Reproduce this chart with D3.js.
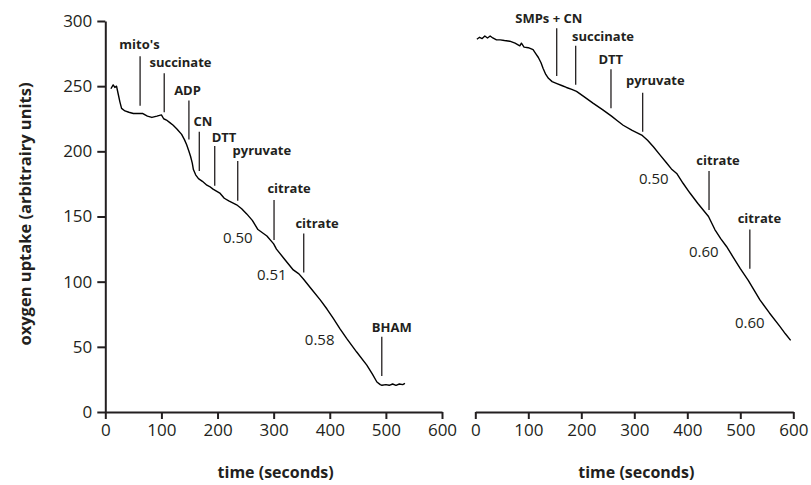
<!DOCTYPE html>
<html>
<head>
<meta charset="utf-8">
<script src="https://cdn.jsdelivr.net/npm/d3@7"></script>
<style>
  html, body { margin: 0; padding: 0; background: #fff; }
  svg { display: block; font-family: "Open Sans", sans-serif; }
</style>
</head>
<body>
<svg id="chart" width="811" height="485"></svg>
<script>
// Oxygen electrode traces: intact mitochondria (left) and SMPs (right)
const leftTime = [10, 14, 17, 20, 23, 26, 29, 35, 42, 50, 58, 67, 75, 83, 92, 100, 104, 109, 115, 121, 128, 136, 141, 145, 149, 152, 155, 157, 161, 166, 173, 181, 186, 192, 204, 212, 220, 234, 243, 252, 262, 272, 288, 300, 305, 318, 335, 345, 353, 368, 383, 395, 406, 418, 430, 448, 466, 476, 484, 490, 493, 500, 506, 512, 518, 524, 530, 534];
const leftO2 = [248, 251, 249, 250, 244, 238, 233, 231, 230, 229, 229, 229, 227, 226, 227, 228, 225, 224, 222, 220, 217, 213, 209, 205, 200, 196, 191, 186, 182, 179, 177, 174, 173, 171, 168, 164, 162, 159, 156, 152, 147, 140, 135, 129, 125, 118, 109, 106, 102, 94, 86, 79, 72, 64, 56.5, 46, 36, 29, 23, 21, 20.5, 21, 20.5, 21.5, 20.5, 21.5, 21, 22];

const rightTime = [3, 8, 13, 18, 23, 28, 33, 40, 47, 55, 65, 75, 84, 87, 92, 100, 109, 114, 119, 124, 128, 133, 138, 145, 154, 163, 172, 182, 191, 205, 222, 240, 257, 268, 279, 296, 314, 325, 336, 348, 361, 370, 380, 392, 405, 420, 440, 452, 463, 474, 487, 500, 515, 526, 537, 555, 575, 585, 595];
const rightO2 = [286, 287.5, 286.5, 288.5, 287, 288.5, 287, 285.5, 285.5, 285, 284.5, 283, 281, 283, 280, 279.5, 278, 275, 272, 268, 263.5, 259, 256, 253.5, 252, 250.5, 249, 247.5, 246, 242, 237, 232, 227, 223.5, 220, 216, 212.5, 208.5, 203.5, 197.5, 191, 186.5, 183, 175.5, 168, 160, 150, 140, 133, 127, 118.5, 110, 101, 93.5, 86, 76, 65.5, 60, 55];

// Addition markers: label, time of addition, line bottom/top, label centre and baseline
const leftMarkers = [
  { label: "mito's",    t: 62,    y0: 235,  y1: 273,   lt: 61,    ly: 278.5 },
  { label: "succinate", t: 105,   y0: 230,  y1: 260,   lt: 134,   ly: 265 },
  { label: "ADP",       t: 149,   y0: 209,  y1: 239,   lt: 146.5, ly: 243 },
  { label: "CN",        t: 167.5, y0: 185,  y1: 215,   lt: 174,   ly: 219.5 },
  { label: "DTT",       t: 195,   y0: 173.6, y1: 204,  lt: 211.6, ly: 207.4 },
  { label: "pyruvate",  t: 236,   y0: 162,  y1: 192.6, lt: 279,   ly: 197 },
  { label: "citrate",   t: 300.7, y0: 132,  y1: 162.7, lt: 327.5, ly: 167.8 },
  { label: "citrate",   t: 353.6, y0: 107,  y1: 137,   lt: 377.4, ly: 141 },
  { label: "BHAM",      t: 492.7, y0: 27.6, y1: 57.8,  lt: 510.5, ly: 61.6 }
];
const rightMarkers = [
  { label: "SMPs + CN", t: 153.6, y0: 257.8, y1: 294.4, lt: 138.7, ly: 298.7 },
  { label: "succinate", t: 189.4, y0: 251,   y1: 281,   lt: 241,   ly: 285 },
  { label: "DTT",       t: 256,   y0: 233,   y1: 263,   lt: 255.7, ly: 267 },
  { label: "pyruvate",  t: 315.8, y0: 215,   y1: 245,   lt: 339.6, ly: 251 },
  { label: "citrate",   t: 441,   y0: 155,   y1: 185,   lt: 458,   ly: 189.5 },
  { label: "citrate",   t: 518,   y0: 110,   y1: 140,   lt: 536,   ly: 145.2 }
];

// Uptake rates written beside the trace
const leftRates = [
  { label: "0.50", t: 236, y: 130 },
  { label: "0.51", t: 296.6, y: 101.3 },
  { label: "0.58", t: 382, y: 51.4 }
];
const rightRates = [
  { label: "0.50", t: 336.8, y: 175 },
  { label: "0.60", t: 431, y: 119.2 },
  { label: "0.60", t: 518, y: 64.2 }
];

const xTicks = [0, 100, 200, 300, 400, 500, 600];
const yTicks = [0, 50, 100, 150, 200, 250, 300];

const ink = "#231f20";
const svg = d3.select("#chart");

const y = d3.scaleLinear().domain([0, 300]).range([412, 21]);

function panel(range, time, o2, markers, rates, showY) {
  const x = d3.scaleLinear().domain([0, 600]).range(range);
  const g = svg.append("g");

  const xAxis = g.append("g")
    .attr("transform", `translate(0,${y(0)})`)
    .call(d3.axisBottom(x).tickValues(xTicks).tickSize(7).tickPadding(5).tickSizeOuter(0));
  xAxis.select(".domain").attr("stroke", ink).attr("stroke-width", 2);
  xAxis.selectAll(".tick line").attr("stroke", ink).attr("stroke-width", 2);
  xAxis.selectAll(".tick text").attr("fill", ink).attr("font-size", 17)
    .attr("font-family", "Open Sans, sans-serif");

  if (showY) {
    const yAxis = g.append("g")
      .attr("transform", `translate(${range[0]},0)`)
      .call(d3.axisLeft(y).tickValues(yTicks).tickSize(8).tickPadding(5).tickSizeOuter(0));
    yAxis.select(".domain").attr("stroke", ink).attr("stroke-width", 2);
    yAxis.selectAll(".tick line").attr("stroke", ink).attr("stroke-width", 2);
    yAxis.selectAll(".tick text").attr("fill", ink).attr("font-size", 17)
      .attr("font-family", "Open Sans, sans-serif");
  }

  const line = d3.line().x((d, i) => x(time[i])).y(d => y(d)).curve(d3.curveLinear);
  g.append("path")
    .datum(o2)
    .attr("d", line)
    .attr("fill", "none")
    .attr("stroke", "#000")
    .attr("stroke-width", 1.4)
    .attr("stroke-linejoin", "round");

  const m = g.selectAll("g.marker").data(markers).join("g").attr("class", "marker");
  m.append("line")
    .attr("x1", d => x(d.t)).attr("x2", d => x(d.t))
    .attr("y1", d => y(d.y0)).attr("y2", d => y(d.y1))
    .attr("stroke", ink).attr("stroke-width", 1.3);
  m.append("text")
    .attr("x", d => x(d.lt)).attr("y", d => y(d.ly))
    .attr("text-anchor", "middle")
    .attr("font-size", 13).attr("font-weight", "bold")
    .attr("fill", ink)
    .text(d => d.label);

  g.selectAll("text.rate").data(rates).join("text").attr("class", "rate")
    .attr("x", d => x(d.t)).attr("y", d => y(d.y))
    .attr("text-anchor", "middle")
    .attr("font-size", 15)
    .attr("fill", ink)
    .text(d => d.label);

  g.append("text")
    .attr("x", (range[0] + range[1]) / 2 + 2)
    .attr("y", 478)
    .attr("text-anchor", "middle")
    .attr("font-size", 16).attr("font-weight", "bold")
    .attr("fill", ink)
    .text("time (seconds)");
}

panel([105.3, 442], leftTime, leftO2, leftMarkers, leftRates, true);
panel([475.3, 793.3], rightTime, rightO2, rightMarkers, rightRates, false);

svg.append("text")
  .attr("transform", "translate(31,214) rotate(-90)")
  .attr("text-anchor", "middle")
  .attr("font-size", 16.5).attr("font-weight", "bold")
  .attr("fill", ink)
  .text("oxygen uptake (arbitrairy units)");
</script>
</body>
</html>
